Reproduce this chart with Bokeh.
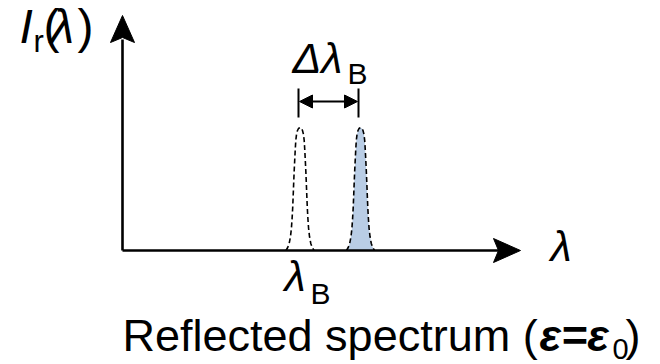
import numpy as np
from bokeh.plotting import figure
from bokeh.models import Range1d, Arrow, NormalHead
from bokeh.core.properties import value
from bokeh.embed import file_html
from bokeh.resources import INLINE

# ---- data (arbitrary units, origin at the axes corner) ----
peak_centers = [177.5, 238.0]          # lambda_B and lambda_B + delta
peak_height = 123.0
half_offsets = [0, 1.5, 2.5, 3.5, 4.2, 4.8, 5.3, 5.8, 6.3, 6.8, 7.3, 7.9, 8.6, 9.5, 10.8, 12.3, 14.0]
half_heights = [123, 122, 120, 116, 110, 100, 90, 80, 68, 55, 43, 32, 22, 14, 7, 3, 0]
x_axis_end = 398.0
y_axis_end = 235.0
marker_y = [133.0, 162.0]
delta_arrow_y = 149.0

FONT = "Liberation Sans"
BLUE = "#B9CDE5"

p = figure(width=660, height=364, output_backend="svg", toolbar_location=None,
           x_range=Range1d(-122, 538), y_range=Range1d(-114, 250), min_border=0)
p.axis.visible = False
p.grid.visible = False
p.outline_line_color = None
p.background_fill_color = "white"
p.border_fill_color = "white"

# peak profile
ho = np.array(half_offsets, dtype=float)
hh = np.array(half_heights, dtype=float) * (peak_height / half_heights[0])
prof_x = np.concatenate([-ho[::-1], ho[1:]])
prof_y = np.concatenate([hh[::-1], hh[1:]])

# filled (shifted) peak
p.patch(peak_centers[1] + prof_x, prof_y, fill_color=BLUE, line_color=None)
for c in peak_centers:
    p.line(c + prof_x, prof_y, line_color="black", line_width=1.6, line_dash="5 3")

# axes
p.line([0, 0], [0, y_axis_end - 24], line_color="black", line_width=2.6)
p.line([0, x_axis_end - 20], [0, 0], line_color="black", line_width=2.6)
hl, hw, notch = 27.0, 12.0, 5.0
p.patch([0, -hw, 0, hw], [y_axis_end, y_axis_end - hl, y_axis_end - hl + notch, y_axis_end - hl],
        fill_color="black", line_color="black", line_width=1)
p.patch([x_axis_end, x_axis_end - hl, x_axis_end - hl + notch, x_axis_end - hl], [0, hw, 0, -hw],
        fill_color="black", line_color="black", line_width=1)

# delta markers and double arrow
m1, m2 = peak_centers[0] - 1.5, peak_centers[1] - 2.0
for m in (m1, m2):
    p.line([m, m], marker_y, line_color="black", line_width=2)
p.add_layout(Arrow(x_start=m1 + 1, y_start=delta_arrow_y, x_end=m2 - 1, y_end=delta_arrow_y,
                   line_color="black", line_width=2.2,
                   start=NormalHead(size=13, fill_color="black", line_color="black"),
                   end=NormalHead(size=13, fill_color="black", line_color="black")))

def txt(x, y, s, size, style="normal", align="left"):
    p.text(x=[x], y=[y + 0.4 * size], text=[s], text_font=value(FONT), text_font_size=f"{size}px",
           text_font_style=style, text_align=align, text_baseline="alphabetic", text_color="black")

# y label: I_r(λ)
txt(-103, 205, "I", 48, "italic")
txt(-89, 197, "r", 31)
txt(-79, 205, "(", 48)
txt(-72, 205, "λ", 48, "italic")
txt(-45, 205, ")", 48)

# x label
txt(428, -13, "λ", 43, "italic")

# λ_B under axis
txt(162, -43, "λ", 43, "italic")
txt(188, -55, "B", 30)

# Δλ_B
txt(170, 175, "Δλ", 43, "italic")
txt(225, 165, "B", 30)

# caption
txt(0, -103, "Reflected spectrum (", 45)
txt(417, -103, "ε=ε", 45, "bold italic")
txt(490, -110, "0", 29)
txt(503, -103, ")", 45)

open("out.html", "w").write(file_html(p, INLINE))
